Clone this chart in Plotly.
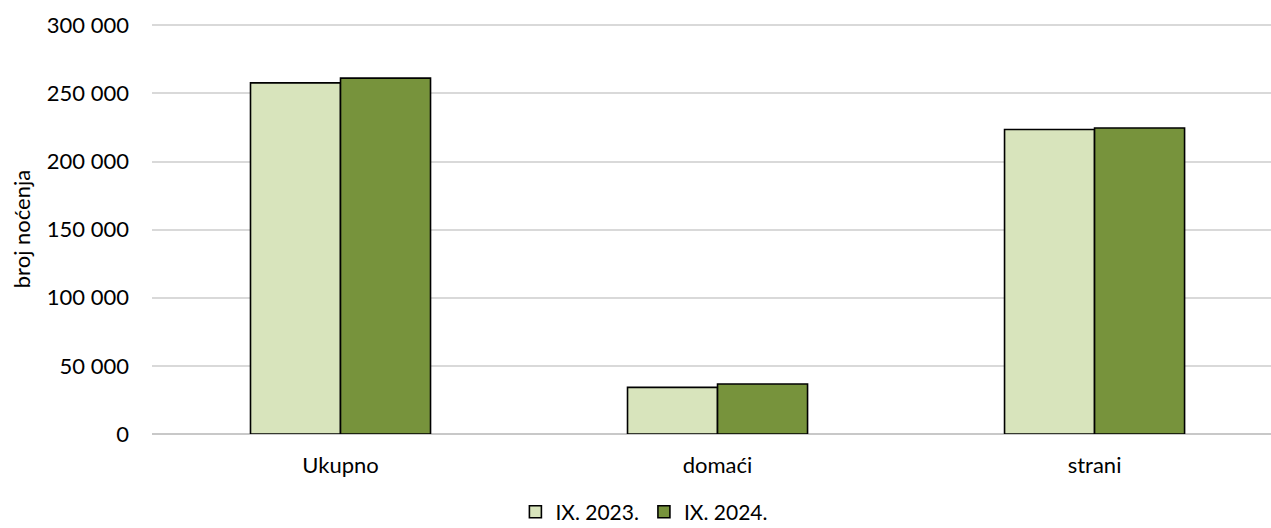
import plotly.graph_objects as go

categories = ["Ukupno", "domaći", "strani"]
series_names = ["IX. 2023.", "IX. 2024."]
values_2023 = [257800, 34200, 223500]
values_2024 = [261300, 36700, 224600]
colors = ["#D8E4BC", "#77933C"]
y_ticks = [0, 50000, 100000, 150000, 200000, 250000, 300000]

FONT = "Lato"

fig = go.Figure()
for name, vals, col in zip(series_names, [values_2023, values_2024], colors):
    fig.add_trace(go.Bar(
        x=categories, y=vals, name=name,
        marker=dict(color=col, line=dict(color="#000000", width=1.6)),
    ))

fig.update_layout(
    width=1271, height=528,
    margin=dict(l=152, r=0, t=23.6, b=94, autoexpand=False),
    paper_bgcolor="white", plot_bgcolor="white",
    font=dict(family=FONT, size=22, color="#000000"),
    separators=", ",
    barmode="group", bargap=0.5225, bargroupgap=0,
    showlegend=True,
    legend=dict(orientation="h", xref="container", yref="container",
                x=0.507, xanchor="center", y=0.03, yanchor="middle",
                font=dict(size=21), itemwidth=30, traceorder="normal"),
    xaxis=dict(range=[-0.5, 2.468], showgrid=False, showline=False,
               ticks="", ticklabelstandoff=16),
    yaxis=dict(range=[0, 301000], tickvals=y_ticks, tickformat=",d",
               showgrid=True, gridcolor="#d9d9d9", gridwidth=1.5,
               zeroline=True, zerolinecolor="#c8c8c8", zerolinewidth=1.8,
               showline=False, ticks="", ticklabelstandoff=22,
               title=dict(text="broj noćenja", standoff=10, font=dict(size=22))),
)

fig.write_html(
    "out.html",
    config={"displayModeBar": False},
    post_script="document.body.style.margin='0';document.body.style.overflow='hidden';",
)
